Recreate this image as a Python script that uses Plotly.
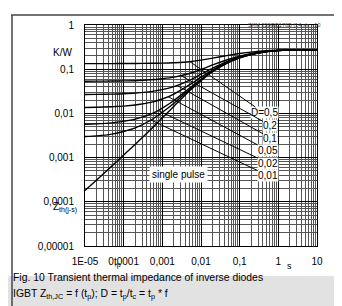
import numpy as np
import plotly.graph_objects as go

# ---- data ----
t_p = [1e-5, 2e-5, 5e-5, 1e-4, 2e-4, 5e-4, 1e-3, 2e-3, 5e-3, 1e-2,
       2e-2, 5e-2, 0.1, 0.2, 0.5, 1, 2, 5, 10]
z_single = [1.8e-4, 3.1e-4, 6.5e-4, 1.15e-3, 2.0e-3, 4.3e-3, 8.0e-3, 1.45e-2, 3.2e-2, 5.5e-2,
            0.088, 0.14, 0.18, 0.215, 0.25, 0.265, 0.27, 0.272, 0.272]
z_d050 = [0.134, 0.134, 0.134, 0.1345, 0.135, 0.136, 0.137, 0.140, 0.147, 0.160,
          0.178, 0.205, 0.226, 0.244, 0.261, 0.268, 0.271, 0.272, 0.272]
z_d020 = [0.0535, 0.0536, 0.054, 0.0545, 0.055, 0.0575, 0.061, 0.066, 0.080, 0.098,
          0.125, 0.166, 0.198, 0.226, 0.254, 0.266, 0.270, 0.272, 0.272]
z_d010 = [0.0268, 0.027, 0.0273, 0.0278, 0.0287, 0.031, 0.0344, 0.0403, 0.056, 0.077,
          0.106, 0.153, 0.189, 0.221, 0.252, 0.266, 0.270, 0.272, 0.272]
z_d005 = [0.0136, 0.0138, 0.0141, 0.0146, 0.0155, 0.0177, 0.0212, 0.0274, 0.044, 0.066,
          0.097, 0.147, 0.185, 0.218, 0.251, 0.265, 0.270, 0.272, 0.272]
z_d002 = [0.0057, 0.0058, 0.0061, 0.0066, 0.0074, 0.0096, 0.0132, 0.0196, 0.037, 0.059,
          0.092, 0.143, 0.182, 0.216, 0.250, 0.265, 0.270, 0.272, 0.272]
z_d001 = [0.0030, 0.0031, 0.0034, 0.0039, 0.0047, 0.0070, 0.0106, 0.017, 0.0344, 0.057,
          0.090, 0.141, 0.181, 0.215, 0.250, 0.265, 0.270, 0.272, 0.272]

d_labels = ["D=0,5", "0,2", "0,1", "0,05", "0,02", "0,01"]
leader_t = [5.2e-3, 3.0e-3, 2.4e-3, 1.4e-3, 7.7e-4, 5.1e-4]

x_tickvals = [1e-5, 1e-4, 1e-3, 1e-2, 1e-1, 1, 10]
x_ticktext = ["1E-05", "0,0001", "0,001", "0,01", "0,1", "1", "10"]
y_tickvals = [1e-5, 1e-4, 1e-3, 1e-2, 1e-1, 1]
y_ticktext = ["0,00001", "0,0001", "0,001", "0,01", "0,1", "1"]

# ---- layout geometry (screenshot pixel coordinates) ----
W, H = 342, 306
PL, PR, PT, PB = 77, 309, 17, 238      # plot area
PW, PH = PR - PL, PB - PT
FONT = "Liberation Sans, Arial, sans-serif"


def px(t):
    return PL + PW * (np.log10(t) + 5) / 6


def py(z):
    return PT + PH * (-np.log10(z)) / 5


def paper_x(p):
    return (p - PL) / PW


def paper_y(p):
    return (PB - p) / PH


fig = go.Figure()
d_series = [z_d050, z_d020, z_d010, z_d005, z_d002, z_d001]
for z in d_series + [z_single]:
    fig.add_trace(go.Scatter(x=t_p, y=z, mode="lines",
                             line=dict(color="black", width=1.4, shape="spline", smoothing=0.6),
                             showlegend=False, hoverinfo="skip"))

label_pos = [(256, 105), (262.5, 117.5), (262.5, 130), (260, 142.5), (260, 155), (260, 167.5)]
annotations = []
for lab, tl, z, (lx, ly) in zip(d_labels, leader_t, d_series, label_pos):
    zl = 10 ** np.interp(np.log10(tl), np.log10(t_p), np.log10(z))
    annotations.append(dict(x=np.log10(tl), y=np.log10(zl), xref="x", yref="y",
                            ax=lx - px(tl), ay=ly - py(zl), axref="pixel", ayref="pixel",
                            text=lab, showarrow=True, arrowhead=0, arrowwidth=1, arrowcolor="black",
                            bgcolor="white", borderpad=0, standoff=0,
                            font=dict(family=FONT, size=10, color="black")))

annotations += [
    dict(x=paper_x(141), y=paper_y(175), xref="paper", yref="paper", text="single pulse",
         showarrow=False, bgcolor="white", borderpad=2,
         font=dict(family=FONT, size=10, color="black")),
    dict(x=paper_x(43), y=paper_y(37), xref="paper", yref="paper", text="K/W",
         showarrow=False, font=dict(family=FONT, size=10, color="black")),
    dict(x=paper_x(43), y=paper_y(208), xref="paper", yref="paper", text="Z<sub>th(j-s)</sub>",
         showarrow=False, font=dict(family=FONT, size=10, color="black")),
    dict(x=paper_x(104), y=paper_y(263), xref="paper", yref="paper", text="t<sub>p</sub>",
         showarrow=False, font=dict(family=FONT, size=10, color="black")),
    dict(x=paper_x(286), y=paper_y(265), xref="paper", yref="paper", text="s",
         showarrow=False, font=dict(family=FONT, size=9, color="black")),
    dict(x=paper_x(314), y=paper_y(12), xref="paper", yref="paper", text="SKM 220GD176D f14.xls - 10",
         xanchor="right", showarrow=False, font=dict(family=FONT, size=5.5, color="#444")),
    dict(x=paper_x(3), y=paper_y(277), xref="paper", yref="paper", xanchor="left",
         text="Fig. 10 Transient thermal impedance of inverse diodes",
         showarrow=False, font=dict(family=FONT, size=10.4, color="black")),
    dict(x=paper_x(3), y=paper_y(295), xref="paper", yref="paper", xanchor="left",
         text="IGBT Z<sub>th,JC</sub> = f (t<sub>p</sub>); D = t<sub>p</sub>/t<sub>c</sub> = t<sub>p</sub> * f",
         showarrow=False, font=dict(family=FONT, size=10.4, color="black")),
]

shapes = [
    dict(type="rect", xref="paper", yref="paper", x0=paper_x(-10), x1=paper_x(W + 10),
         y0=paper_y(268), y1=paper_y(H + 10), fillcolor="#e2e2e2", line=dict(width=0), layer="below"),
    dict(type="line", xref="paper", yref="paper", x0=paper_x(3), x1=paper_x(W + 10),
         y0=paper_y(7), y1=paper_y(7), line=dict(color="#444", width=1.5)),
    dict(type="line", xref="paper", yref="paper", x0=paper_x(4), x1=paper_x(4),
         y0=paper_y(7), y1=paper_y(H + 10), line=dict(color="#444", width=1.5)),
]

axis_common = dict(type="log", showline=True, mirror=True, linecolor="black", linewidth=1,
                   showgrid=True, gridcolor="black", gridwidth=1, ticks="", zeroline=False,
                   minor=dict(showgrid=True, dtick="D1", gridcolor="#555", gridwidth=0.8, ticks=""),
                   tickfont=dict(family=FONT, size=10, color="black"))

fig.update_layout(
    width=W, height=H,
    margin=dict(l=PL, r=W - PR, t=PT, b=H - PB),
    paper_bgcolor="white", plot_bgcolor="white",
    xaxis=dict(axis_common, range=[-5, 1], tickvals=x_tickvals, ticktext=x_ticktext,
               ticklabelstandoff=6),
    yaxis=dict(axis_common, range=[-5, 0], tickvals=y_tickvals, ticktext=y_ticktext,
               ticklabelstandoff=8),
    annotations=annotations, shapes=shapes,
)

fig.write_html("out.html")
